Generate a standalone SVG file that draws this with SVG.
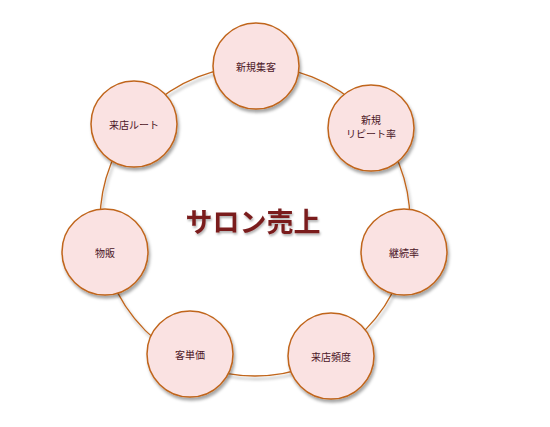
<svg xmlns="http://www.w3.org/2000/svg" width="550" height="427" viewBox="0 0 550 427">
<defs>
<filter id="sh" x="-30%" y="-30%" width="160%" height="160%">
<feDropShadow dx="1.5" dy="3" stdDeviation="1.8" flood-color="#000" flood-opacity="0.35"/>
</filter>
<filter id="tsh" x="-10%" y="-20%" width="120%" height="150%">
<feDropShadow dx="1" dy="2" stdDeviation="1" flood-color="#000" flood-opacity="0.3"/>
</filter>
<style>
.n{fill:#fae2e2;stroke:#c0651b;stroke-width:1.5;filter:url(#sh)}
.t{font-family:"Noto Sans CJK JP","Noto Sans",sans-serif;font-size:10px;fill:#4a1526;text-anchor:middle}
.ring{fill:none;stroke:#c0651b;stroke-width:1.3;filter:url(#sh)}
</style>
</defs>
<rect width="550" height="427" fill="#fff"/>
<g id="connectors">
<circle class="ring" cx="255" cy="221" r="155"/>
</g>
<text x="253" y="232" font-family="Noto Sans CJK JP,sans-serif" font-size="27" font-weight="bold" fill="#7a1c1e" text-anchor="middle" filter="url(#tsh)">サロン売上</text>
<g id="n1"><circle class="n" cx="256" cy="66" r="43"/><text class="t" x="256" y="71">新規集客</text></g>
<g id="n2"><circle class="n" cx="371" cy="128" r="43"/><text class="t" x="371" y="124">新規</text><text class="t" x="371" y="138">リピート率</text></g>
<g id="n3"><circle class="n" cx="404" cy="252" r="43"/><text class="t" x="404" y="257">継続率</text></g>
<g id="n4"><circle class="n" cx="331" cy="356" r="43"/><text class="t" x="331" y="361">来店頻度</text></g>
<g id="n5"><circle class="n" cx="190" cy="354" r="43"/><text class="t" x="190" y="359">客単価</text></g>
<g id="n6"><circle class="n" cx="105" cy="252" r="43"/><text class="t" x="105" y="257">物販</text></g>
<g id="n7"><circle class="n" cx="134" cy="124" r="43"/><text class="t" x="134" y="129">来店ルート</text></g>
</svg>
